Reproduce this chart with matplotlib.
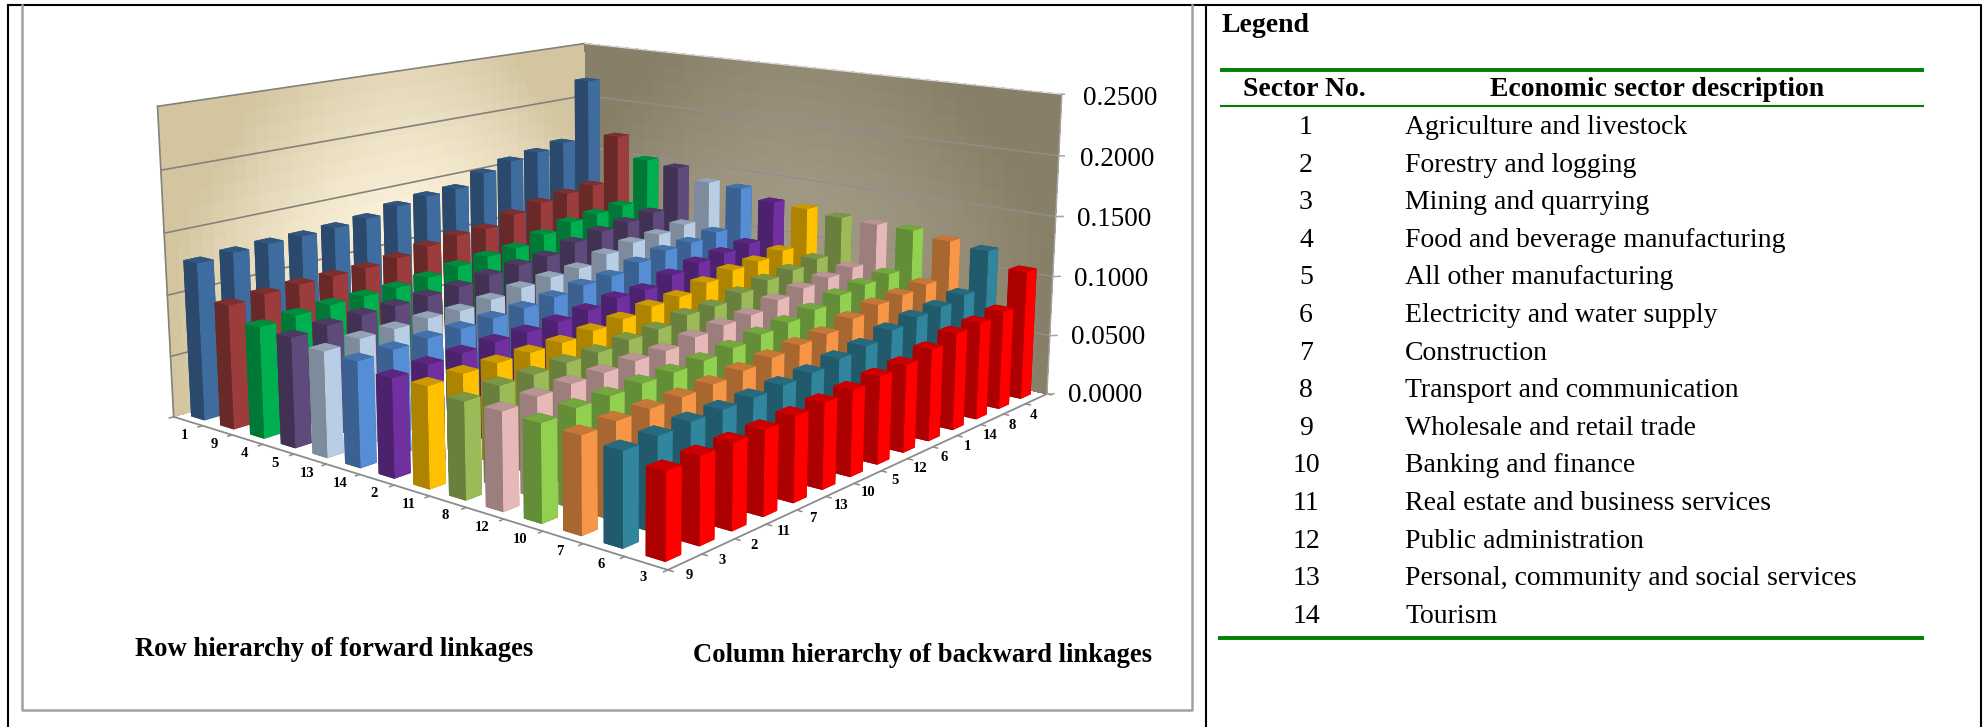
import numpy as np
import matplotlib
matplotlib.use('Agg')
import matplotlib.pyplot as plt
from matplotlib.colors import to_rgb
from mpl_toolkits.mplot3d import proj3d

SERIF = 'Liberation Serif'

# sector order along the two floor edges
row_sectors = ['1', '9', '4', '5', '13', '14', '2', '11', '8', '12', '10', '7', '6', '3']
col_sectors = ['9', '3', '2', '11', '7', '13', '10', '5', '12', '6', '1', '14', '8', '4']

# one list per row sector, in the order of col_sectors
linkages = [
    [.128, .130, .131, .131, .132, .134, .139, .142, .143, .152, .158, .161, .165, .219],
    [.100, .102, .103, .103, .103, .105, .109, .112, .112, .119, .124, .127, .129, .170],
    [.089, .091, .092, .092, .092, .094, .097, .099, .100, .106, .111, .113, .115, .152],
    [.087, .089, .090, .090, .091, .092, .095, .097, .098, .104, .108, .110, .113, .149],
    [.083, .085, .085, .086, .085, .087, .090, .092, .093, .099, .103, .104, .107, .140],
    [.082, .083, .084, .084, .085, .086, .088, .091, .092, .097, .101, .102, .105, .139],
    [.076, .078, .079, .080, .080, .081, .083, .086, .086, .092, .096, .098, .100, .131],
    [.077, .078, .078, .078, .078, .080, .082, .085, .086, .091, .095, .096, .099, .130],
    [.073, .076, .076, .077, .077, .079, .080, .084, .084, .088, .092, .094, .097, .127],
    [.073, .075, .076, .076, .077, .077, .080, .082, .083, .088, .091, .093, .095, .126],
    [.072, .074, .074, .075, .075, .076, .078, .081, .083, .086, .091, .093, .095, .126],
    [.071, .072, .072, .072, .073, .075, .077, .079, .080, .085, .089, .090, .092, .122],
    [.068, .069, .070, .070, .070, .071, .072, .075, .077, .082, .085, .086, .089, .119],
    [.062, .063, .063, .063, .064, .065, .066, .068, .069, .073, .078, .079, .081, .107],
]
row_colors = ['#3F6C9F', '#9C3C3C', '#00B050', '#604A7B', '#B9CDE5', '#558ED5', '#7030A0',
              '#FFC000', '#9BBB59', '#E6B9B8', '#92D050', '#F79646', '#31859C', '#FF0000']
z_ticks = [0.0, 0.05, 0.10, 0.15, 0.20, 0.25]

sector_numbers = list(range(1, 15))
sector_names = ['Agriculture and livestock', 'Forestry and logging', 'Mining and quarrying',
                'Food and beverage manufacturing', 'All other manufacturing',
                'Electricity and water supply', 'Construction', 'Transport and communication',
                'Wholesale and retail trade', 'Banking and finance',
                'Real estate and business services', 'Public administration',
                'Personal, community and social services', 'Tourism']

fig = plt.figure(figsize=(19.87, 7.27), dpi=100, facecolor='white')

# page layer in pixel coordinates: frame, chart border and the legend table
page = fig.add_axes([0, 0, 1, 1])
page.set_xlim(0, 1987)
page.set_ylim(727, 0)
page.axis('off')
page.plot([8, 8], [727, 5], color='black', lw=1.5)
page.plot([8, 1981, 1981], [5, 5, 727], color='black', lw=1.5)
page.plot([1206, 1206], [5, 727], color='black', lw=1.5)
page.plot([22, 22, 1192, 1192], [5, 710, 710, 5], color='#A0A0A0', lw=1.8)

page.text(135, 649, 'Row hierarchy of forward linkages', family=SERIF, weight='bold',
          fontsize=19.2, va='center')
page.text(693, 656, 'Column hierarchy of backward linkages', family=SERIF, weight='bold',
          fontsize=19.2, va='center')

green = '#008000'
page.plot([1220, 1924], [70, 70], color=green, lw=2.8, solid_capstyle='butt')
page.plot([1220, 1924], [106, 106], color=green, lw=1.5, solid_capstyle='butt')
page.plot([1218, 1924], [638, 638], color=green, lw=2.8, solid_capstyle='butt')
page.text(1221, 26, 'Legend', family=SERIF, weight='bold', fontsize=20, va='center')
page.text(1304, 90, 'Sector No.', family=SERIF, weight='bold', fontsize=20, va='center', ha='center')
page.text(1657, 90, 'Economic sector description', family=SERIF, weight='bold', fontsize=20,
          va='center', ha='center')
for k, (num, name) in enumerate(zip(sector_numbers, sector_names)):
    y = 127.5 + k * 37.6
    page.text(1306, y, str(num), family=SERIF, fontsize=20, va='center', ha='center')
    page.text(1405, y, name, family=SERIF, fontsize=20, va='center')

# 3D chart, camera fitted to the corners of the reference walls
ax = fig.add_axes([147.2 / 1987, 0.6 / 727, 917.4 / 1987, 917.4 / 727], projection='3d')
ax.patch.set_visible(False)
ax.set_axis_off()
ax.computed_zorder = False
ax.view_init(13.116, -50.069)
ax.set_proj_type('persp', focal_length=0.41)
ax.set_box_aspect((1, 0.998, 0.496))
ax.set_xlim(0, 14)
ax.set_ylim(0, 14)
ax.set_zlim(0, 0.25)


def wall_colors(edge, mid, n_h, n_v):
    # soft gradient: lighter in the middle of the wall, darker at its sides and top
    edge, mid = np.array(to_rgb(edge)), np.array(to_rgb(mid))
    h = np.abs(np.linspace(-1, 1, n_h)) ** 1.8
    v = np.linspace(0, 1, n_v)
    out = np.zeros((n_h, n_v, 3))
    for a in range(n_h):
        for b in range(n_v):
            t = min(1, h[a] + 0.55 * max(0, v[b] - 0.55) / 0.45)
            out[a, b] = mid + (edge - mid) * t
    return out


def edge_label(x, y, z, text, dx, dy, **kw):
    # label pinned to a point of the chart, shifted by dx, dy pixels on the page
    u, v, _ = proj3d.proj_transform(x, y, z, ax.get_proj())
    ax.annotate(text, (float(u), float(v)), xytext=(dx * 0.72, -dy * 0.72), textcoords='offset points',
                family=SERIF, va='center', annotation_clip=False, **kw)


n = 42
along = np.linspace(0, 14, n + 1)
up = np.linspace(0, 0.25, 19)
A, U = np.meshgrid(along, up, indexing='ij')
ax.plot_surface(np.zeros_like(A), A, U, facecolors=wall_colors('#D2C5A0', '#FAEFD7', n, 18),
                shade=False, rstride=1, cstride=1, linewidth=0, antialiased=False, zorder=1)
ax.plot_surface(A, np.full_like(A, 14.0), U, facecolors=wall_colors('#887F68', '#A09883', n, 18),
                shade=False, rstride=1, cstride=1, linewidth=0, antialiased=False, zorder=1)

for z in z_ticks[1:]:
    ax.plot([0, 0], [0, 14], [z, z], color='#85827A', lw=1.2, zorder=2)
    ax.plot([0, 14], [14, 14], [z, z], color='#8F8F8F' if z < 0.25 else '#D8D8D8', lw=1.0, zorder=2)
ax.plot([0, 0], [0, 0], [0, 0.25], color='#85827A', lw=1.2, zorder=2)
ax.plot([14, 14], [14, 14], [0, 0.25], color='#A6A6A6', lw=1.0, zorder=2)

# floor edges, ticks and category labels
ax.plot([0, 14, 14], [0, 0, 14], [0, 0, 0], color='#8C8C8C', lw=1.3, zorder=3)
for k in range(15):
    ax.plot([k, k], [0, -0.12], [0, 0], color='#8C8C8C', lw=1.1, zorder=3)
    ax.plot([14, 14.12], [k, k], [0, 0], color='#8C8C8C', lw=1.1, zorder=3)
for k in range(14):
    edge_label(k + 0.5, 0, 0, row_sectors[k], -3, 14, weight='bold', fontsize=10.5, ha='center')
    edge_label(14, k + 0.5, 0, col_sectors[k], 4 - 7 * k / 13, 14 + 3 * k / 13, weight='bold',
               fontsize=10.5, ha='center')
for z in z_ticks:
    ax.plot([14, 14.12], [14, 14.12], [z, z], color='#A6A6A6', lw=1.1, zorder=3)
    edge_label(14, 14, z, '%.4f' % z, 21, 1.5 + 12 * z, fontsize=19.5, ha='left')

# bars painted back to front, one collection each so the overlaps stay right
bar_w = 0.46
order = 10
for i in range(14):
    base = np.array(to_rgb(row_colors[i]))
    # bottom, top, -y, +y, -x, +x
    faces = [base * 0.6, base * 0.8, base * 0.68, base * 0.68, base * 0.68, base]
    for j in range(13, -1, -1):
        ax.bar3d(i + 0.5 - bar_w / 2, j + 0.5 - bar_w / 2, 0, bar_w, bar_w, linkages[i][j],
                 color=faces, shade=False, linewidth=0, zorder=order)
        order += 1

ax.set_xlim(0, 14)
ax.set_ylim(0, 14)
ax.set_zlim(0, 0.25)

fig.savefig('out.png', dpi=100, facecolor='white')
